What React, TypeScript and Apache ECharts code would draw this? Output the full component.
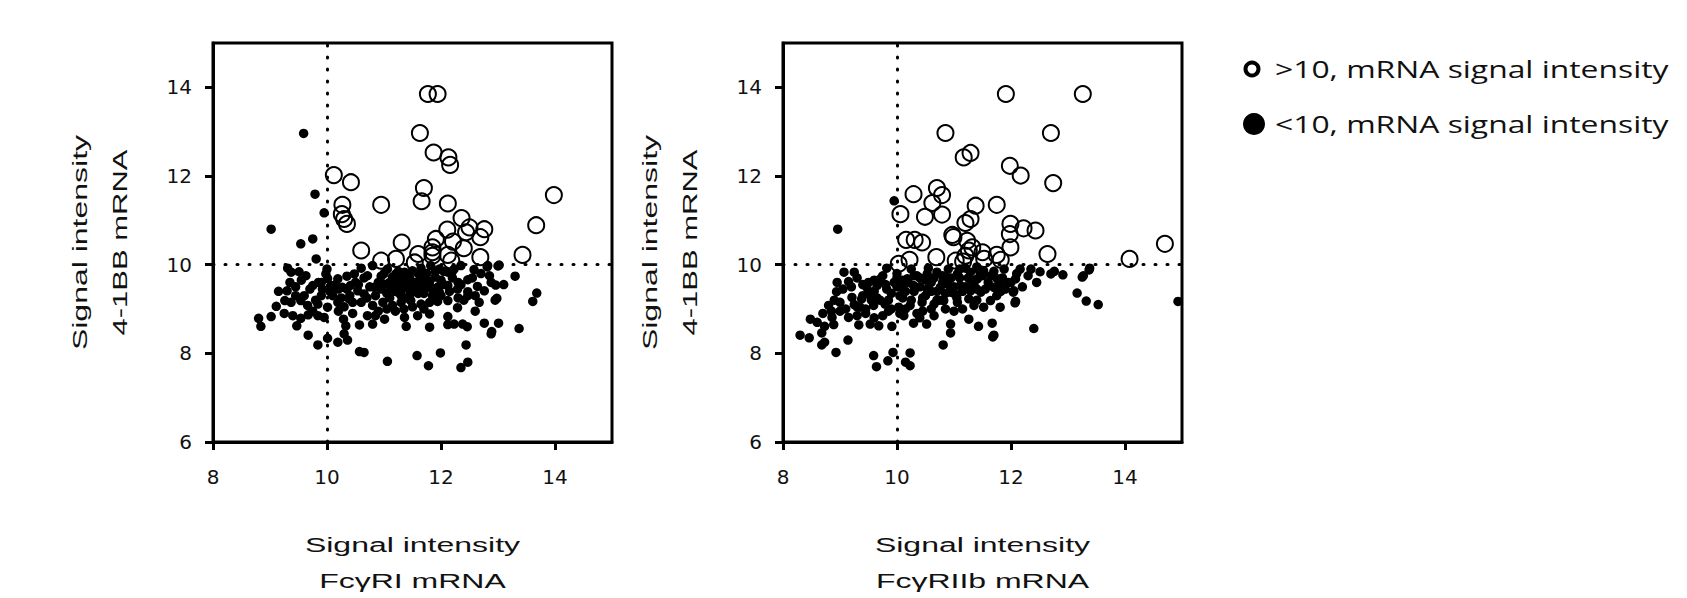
import React, { useEffect, useRef } from "react";
import * as echarts from "echarts";

// ---- Data (x = receptor mRNA signal intensity, y = 4-1BB mRNA signal intensity) ----
const xTicks = [8, 10, 12, 14];
const yTicks = [6, 8, 10, 12, 14];
const thresholdX = 10;
const thresholdY = 10;

const seriesNames = [">10, mRNA signal intensity", "<10, mRNA signal intensity"];
const xTitleTop = "Signal intensity";
const xTitles = ["FcγRI mRNA", "FcγRIIb mRNA"];
const yTitleTop = "Signal intensity";
const yTitleBottom = "4-1BB mRNA";

// Left panel: FcγRI
const fcgr1Above: number[][] = [
  [11.77, 13.85], [11.94, 13.85], [11.63, 12.97], [11.87, 12.53], [12.13, 12.42], [12.16, 12.25],
  [10.12, 12.02], [10.42, 11.86], [11.70, 11.73], [11.66, 11.43], [10.95, 11.35], [10.27, 11.35],
  [12.12, 11.38], [10.26, 11.14], [10.30, 11.03], [10.35, 10.92], [13.98, 11.57], [13.67, 10.89],
  [13.43, 10.22], [12.36, 11.05], [12.50, 10.84], [12.76, 10.80], [12.11, 10.79], [12.44, 10.73],
  [12.69, 10.62], [11.91, 10.58], [12.21, 10.52], [11.31, 10.50], [11.85, 10.39], [12.40, 10.37],
  [10.60, 10.32], [11.85, 10.28], [11.85, 10.20], [12.12, 10.22], [12.69, 10.17], [11.21, 10.13],
  [10.95, 10.09], [11.54, 10.05], [11.60, 10.24], [12.18, 10.09],
];

const fcgr1Below: number[][] = [
  [9.31, 9.92], [9.37, 9.83], [9.51, 9.84], [9.63, 9.75], [9.98, 9.79], [10.01, 9.69], [10.19, 9.68],
  [10.35, 9.74], [10.48, 9.79], [10.60, 9.92], [10.71, 9.75], [10.80, 9.98], [10.95, 9.74], [11.06, 9.90],
  [11.21, 9.79], [11.36, 9.83], [11.50, 9.86], [11.65, 9.92], [11.82, 9.98], [11.97, 9.90], [12.12, 9.83],
  [12.23, 9.90], [12.35, 9.98], [12.58, 9.89], [12.82, 9.98], [13.02, 9.99], [13.30, 9.74], [12.47, 9.66],
  [12.88, 9.60], [12.96, 9.54],
  [9.30, 9.41], [9.75, 9.53], [9.92, 9.45], [10.07, 9.53], [10.27, 9.49], [10.41, 9.53], [10.54, 9.41],
  [10.65, 9.34], [10.83, 9.49], [11.01, 9.56], [11.12, 9.47], [11.24, 9.38], [11.36, 9.47], [11.47, 9.38],
  [11.59, 9.53], [11.71, 9.45], [11.82, 9.49], [11.97, 9.38], [12.12, 9.53], [12.29, 9.45], [12.47, 9.39],
  [12.64, 9.51], [12.76, 9.41], [13.68, 9.36], [13.61, 9.17],
  [9.26, 9.19], [9.37, 9.15], [9.54, 9.19], [9.66, 9.08], [9.84, 9.11], [10.01, 9.04], [10.19, 9.15],
  [10.39, 9.23], [10.60, 9.15], [10.80, 9.08], [10.98, 9.15], [11.15, 9.08], [11.30, 9.15], [11.47, 9.19],
  [11.65, 9.11], [11.80, 9.15], [11.94, 9.17], [12.12, 9.19], [12.29, 9.03], [12.47, 9.30], [12.67, 9.15],
  [12.98, 9.24],
  [8.80, 8.79], [8.84, 8.61], [9.02, 8.83], [9.11, 9.06], [9.47, 8.62], [9.54, 8.79], [9.67, 8.87],
  [9.84, 8.85], [9.95, 8.81], [10.29, 8.77], [10.33, 8.62], [10.57, 8.64], [10.71, 8.85], [10.80, 8.66],
  [11.01, 8.77], [11.36, 8.81], [11.39, 8.61], [11.59, 8.85], [11.80, 8.89], [11.80, 8.59], [12.12, 8.83],
  [12.12, 8.65], [12.23, 8.66], [12.38, 8.66], [12.46, 8.60], [12.76, 8.68], [13.01, 8.68], [13.37, 8.56],
  [9.67, 8.41], [9.84, 8.19], [10.01, 8.34], [10.19, 8.25], [10.30, 8.44], [10.36, 8.30], [10.57, 8.04],
  [10.65, 8.02], [11.06, 7.82], [11.58, 7.95], [11.78, 7.72], [11.99, 8.01], [12.35, 7.68], [12.47, 7.80],
  [12.44, 8.19], [12.88, 8.44], [12.89, 8.49],
  [9.59, 12.96], [9.79, 11.59], [9.95, 11.17], [9.02, 10.80], [9.75, 10.58], [9.54, 10.47], [9.81, 10.13],
  [11.1, 9.6], [11.2, 9.5], [11.3, 9.65], [11.4, 9.55], [11.45, 9.7], [11.5, 9.45], [11.55, 9.6],
  [11.6, 9.35], [11.65, 9.7], [11.7, 9.55], [11.75, 9.8], [11.8, 9.62], [11.85, 9.3], [11.9, 9.72],
  [11.95, 9.5], [12.0, 9.65], [12.05, 9.85], [11.3, 9.3], [11.4, 9.25], [11.25, 9.85], [11.15, 9.72],
  [11.05, 9.35], [10.9, 9.6], [10.85, 9.3], [11.5, 9.05], [11.7, 9.0], [12.2, 9.7], [12.3, 9.6],
  [10.1, 9.3], [10.2, 9.45], [9.9, 9.3], [9.6, 9.3], [9.45, 9.5], [10.4, 9.3], [10.5, 9.6], [10.0, 9.9],
  [9.85, 9.6], [10.75, 9.5], [10.3, 9.05], [10.9, 8.95], [11.2, 8.95], [9.75, 8.95], [13.0, 9.97],
  [12.81, 9.95], [12.95, 9.2],
  [9.35, 9.6], [9.45, 9.3], [9.55, 9.65], [9.7, 9.45], [9.8, 9.2], [9.9, 9.6], [10.05, 9.4], [10.15, 9.55],
  [10.25, 9.25], [10.35, 9.45], [10.45, 9.15], [10.55, 9.55], [10.65, 9.7], [10.7, 9.25], [10.95, 9.45],
  [11.0, 9.8], [11.1, 9.25], [11.2, 9.4], [11.25, 9.6], [11.35, 9.75], [11.45, 9.3], [11.55, 9.5],
  [11.6, 9.8], [11.7, 9.35], [11.75, 9.65], [11.85, 9.45], [11.9, 9.85], [12.0, 9.3], [12.05, 9.55],
  [12.15, 9.4], [12.2, 9.85], [12.35, 9.55], [12.4, 9.2], [12.55, 9.7], [12.6, 9.3], [12.7, 9.8],
  [12.85, 9.75], [13.1, 9.55], [11.35, 9.0], [11.05, 9.0], [10.45, 8.9], [9.25, 8.9], [9.15, 9.4],
  [9.4, 8.85], [12.6, 8.95], [12.3, 9.25], [10.2, 8.95], [10.85, 8.85],
];

// Right panel: FcγRIIb
const fcgr2bAbove: number[][] = [
  [11.91, 13.85], [13.26, 13.85], [10.85, 12.97], [12.70, 12.97], [11.17, 12.42], [11.29, 12.52],
  [11.98, 12.23], [12.17, 12.01], [12.74, 11.84], [10.29, 11.59], [10.70, 11.73], [10.79, 11.57],
  [10.62, 11.39], [10.79, 11.13], [10.49, 11.08], [10.06, 11.14], [11.38, 11.33], [11.29, 11.03],
  [11.20, 10.94], [11.75, 11.35], [11.99, 10.92], [12.22, 10.82], [12.43, 10.77], [11.98, 10.69],
  [11.99, 10.39], [12.64, 10.24], [14.08, 10.13], [14.70, 10.47], [10.97, 10.67], [10.99, 10.62],
  [10.16, 10.56], [10.31, 10.56], [10.44, 10.50], [11.23, 10.54], [11.32, 10.39], [11.26, 10.32],
  [11.50, 10.28], [11.20, 10.20], [10.69, 10.17], [10.22, 10.11], [10.03, 10.02], [11.03, 10.09],
  [11.16, 10.07], [11.75, 10.22], [11.82, 10.11], [11.53, 10.13],
];

const fcgr2bBelow: number[][] = [
  [9.07, 9.83], [9.25, 9.83], [9.15, 9.62], [9.82, 9.92], [12.51, 9.84], [12.70, 9.79], [12.76, 9.85],
  [12.91, 9.77], [13.27, 9.75], [13.38, 9.92], [12.16, 9.90], [12.08, 9.68], [11.95, 9.60], [11.76, 9.68],
  [11.52, 9.86], [11.88, 9.90], [11.41, 9.68], [11.29, 9.83], [11.06, 9.79], [10.88, 9.71], [10.70, 9.83],
  [10.53, 9.79], [10.35, 9.75], [10.18, 9.68], [10.00, 9.71], [9.71, 9.68],
  [8.94, 9.39], [9.47, 9.49], [9.65, 9.53], [9.82, 9.45], [10.09, 9.49], [10.29, 9.53], [10.53, 9.45],
  [10.76, 9.49], [10.94, 9.38], [11.11, 9.53], [11.29, 9.41], [11.47, 9.38], [11.70, 9.49], [11.82, 9.40],
  [12.05, 9.41], [13.16, 9.36], [13.32, 9.18], [13.53, 9.10], [14.93, 9.17], [12.08, 9.17], [11.81, 9.04],
  [11.64, 9.19], [11.35, 9.08], [11.52, 9.04], [11.26, 9.23], [11.06, 9.15], [10.82, 9.19], [10.65, 9.11],
  [10.44, 9.15], [10.23, 9.08], [10.03, 9.04], [9.79, 9.11], [9.59, 9.08], [9.38, 9.23], [9.21, 9.26],
  [9.00, 9.15], [8.80, 9.08],
  [8.48, 8.77], [8.30, 8.41], [8.46, 8.35], [8.68, 8.46], [8.73, 8.61], [8.86, 8.81], [8.89, 8.65],
  [9.15, 8.81], [9.33, 8.64], [9.53, 8.66], [9.68, 8.62], [9.91, 8.61], [10.12, 8.85], [10.29, 8.68],
  [10.52, 8.66], [10.65, 8.85], [10.94, 8.66], [10.94, 8.46], [11.26, 8.77], [11.43, 8.61], [11.67, 8.68],
  [11.70, 8.41], [12.40, 8.56], [9.14, 8.30], [8.68, 8.19], [8.73, 8.25], [8.93, 8.02], [10.81, 8.19],
  [9.35, 9.04],
  [9.59, 7.95], [9.64, 7.70], [9.84, 7.83], [9.93, 8.02], [10.15, 7.80], [10.23, 8.01], [10.23, 7.72],
  [9.95, 11.44], [8.96, 10.80],
  [9.4, 9.3], [9.5, 9.6], [9.6, 9.4], [9.7, 9.2], [9.8, 9.55], [9.9, 9.35], [10.0, 9.5], [10.1, 9.25],
  [10.2, 9.6], [10.3, 9.4], [10.4, 9.7], [10.5, 9.3], [10.6, 9.6], [10.7, 9.4], [10.8, 9.75], [10.9, 9.55],
  [11.0, 9.35], [11.1, 9.7], [11.2, 9.5], [11.3, 9.65], [11.4, 9.45], [11.5, 9.75], [11.6, 9.6],
  [11.7, 9.85], [11.8, 9.55], [9.2, 9.5], [9.3, 9.05], [9.45, 8.9], [9.75, 8.85], [10.05, 8.9],
  [10.35, 8.9], [10.6, 9.0], [10.0, 9.8], [10.25, 9.9], [10.55, 9.92], [10.9, 9.9], [11.2, 9.92],
  [11.4, 9.95], [9.9, 9.0], [9.55, 9.2], [10.75, 9.2], [11.0, 8.95], [9.0, 8.95], [8.9, 9.2], [9.1, 9.0],
  [13.37, 9.88], [13.25, 9.72], [12.07, 9.14], [12.04, 9.38], [11.68, 8.37],
  [9.3, 9.7], [9.4, 9.55], [9.5, 9.35], [9.6, 9.65], [9.65, 9.25], [9.75, 9.75], [9.85, 9.2], [9.95, 9.6],
  [10.05, 9.3], [10.1, 9.65], [10.15, 9.4], [10.25, 9.2], [10.3, 9.75], [10.4, 9.5], [10.45, 9.25],
  [10.5, 9.65], [10.6, 9.4], [10.65, 9.7], [10.7, 9.2], [10.8, 9.6], [10.85, 9.35], [10.95, 9.7],
  [11.0, 9.5], [11.05, 9.25], [11.1, 9.9], [11.15, 9.4], [11.25, 9.7], [11.35, 9.55], [11.4, 9.2],
  [11.45, 9.85], [11.55, 9.45], [11.65, 9.75], [11.75, 9.3], [11.85, 9.7], [11.9, 9.45], [12.0, 9.6],
  [12.1, 9.8], [12.2, 9.5], [12.3, 9.75], [12.35, 9.9], [12.45, 9.6], [9.05, 9.45], [8.95, 9.6],
  [8.7, 8.9], [8.6, 8.7], [8.85, 8.95], [9.25, 9.1], [9.45, 9.0], [9.85, 8.95], [10.15, 9.0],
  [10.45, 8.95], [10.85, 9.0], [11.15, 9.0], [9.3, 8.85], [9.6, 8.8], [10.4, 8.8],
];

const FONT = "'Liberation Sans', Arial, sans-serif";
const TICK_FONT = "'DejaVu Sans', 'Liberation Sans', sans-serif";

export default function App() {
  const ref = useRef<HTMLDivElement>(null);

  useEffect(() => {
    if (!ref.current) return;
    const chart = echarts.init(ref.current, undefined, { renderer: "svg" });

    const grids = [
      { left: 213, top: 43, width: 399, height: 399 },
      { left: 783, top: 43, width: 399, height: 399 },
    ];

    const mkX = (i: number) => ({
      gridIndex: i,
      type: "value",
      min: 8,
      max: 15,
      interval: 2,
      axisLine: { show: true, onZero: false, lineStyle: { color: "#000", width: 3 } },
      axisTick: { show: true, inside: false, length: 8, customValues: xTicks, lineStyle: { color: "#000", width: 3 } },
      axisLabel: {
        customValues: xTicks,
        margin: 25,
        fontSize: 20,
        fontFamily: TICK_FONT,
        color: "#111",
        formatter: (v: number) => (v === 15 ? "" : String(v)),
      },
      splitLine: { show: false },
    });
    const mkY = (i: number) => ({
      gridIndex: i,
      type: "value",
      min: 6,
      max: 15,
      interval: 2,
      axisLine: { show: true, onZero: false, lineStyle: { color: "#000", width: 3 } },
      axisTick: { show: true, inside: false, length: 8, customValues: yTicks, lineStyle: { color: "#000", width: 3 } },
      axisLabel: {
        customValues: yTicks,
        margin: 21,
        fontSize: 20,
        fontFamily: TICK_FONT,
        color: "#111",
        formatter: (v: number) => (v === 15 ? "" : String(v)),
      },
      splitLine: { show: false },
    });

    const refLines = {
      silent: true,
      z: 1,
      symbol: ["none", "none"],
      label: { show: false },
      lineStyle: { color: "#000", width: 3, type: [1, 11], cap: "round", opacity: 1 },
      emphasis: { disabled: true },
      data: [{ xAxis: thresholdX }, { yAxis: thresholdY }],
    };

    const filled = (i: number, data: number[][]) => ({
      name: seriesNames[1],
      type: "scatter",
      xAxisIndex: i,
      yAxisIndex: i,
      symbol: "circle",
      symbolSize: 9.5,
      z: 3,
      itemStyle: { color: "#000", opacity: 1 },
      data,
      markLine: refLines,
    });
    const open = (i: number, data: number[][]) => ({
      name: seriesNames[0],
      type: "scatter",
      xAxisIndex: i,
      yAxisIndex: i,
      symbol: "circle",
      symbolSize: 16,
      z: 4,
      itemStyle: { color: "rgba(0,0,0,0)", borderColor: "#000", borderWidth: 2, opacity: 1 },
      data,
    });

    const nameText = (x: number, y: number, text: string, rot: number, sx: number) => ({
      type: "text",
      x,
      y,
      rotation: rot,
      scaleX: sx,
      style: {
        text,
        fontSize: 20,
        fontFamily: FONT,
        fill: "#111",
        align: "center",
        verticalAlign: "middle",
      },
    });

    const graphics: any[] = [];
    const yCenters = [
      { a: 80, b: 120 },
      { a: 650, b: 690 },
    ];
    grids.forEach((g, i) => {
      const cx = g.left + g.width / 2;
      graphics.push(nameText(cx, 545, xTitleTop, 0, 1.6));
      graphics.push(nameText(cx, 581, xTitles[i], 0, 1.6));
      const cy = g.top + g.height / 2;
      graphics.push(nameText(yCenters[i].a, cy, yTitleTop, Math.PI / 2, 1.6));
      graphics.push(nameText(yCenters[i].b, cy, yTitleBottom, Math.PI / 2, 1.55));
    });

    // legend
    graphics.push({
      type: "circle",
      shape: { cx: 1252, cy: 69, r: 6.5 },
      style: { fill: "none", stroke: "#000", lineWidth: 4 },
    });
    graphics.push({
      type: "circle",
      shape: { cx: 1254, cy: 124, r: 11 },
      style: { fill: "#000" },
    });
    [69, 124].forEach((y, k) => {
      graphics.push({
        type: "text",
        x: 1275,
        y,
        scaleX: 1.3,
        style: {
          text: seriesNames[k],
          fontSize: 24.5,
          fontFamily: "'Open Sans', 'Noto Sans', sans-serif",
          fill: "#111",
          align: "left",
          verticalAlign: "middle",
        },
      });
    });

    chart.setOption({
      animation: false,
      backgroundColor: "#fff",
      grid: grids.map((g) => ({ ...g, show: true, borderColor: "#000", borderWidth: 3, backgroundColor: "transparent", containLabel: false })),
      xAxis: [mkX(0), mkX(1)],
      yAxis: [mkY(0), mkY(1)],
      series: [
        filled(0, fcgr1Below),
        open(0, fcgr1Above),
        filled(1, fcgr2bBelow),
        open(1, fcgr2bAbove),
      ],
      graphic: graphics,
    });

    return () => chart.dispose();
  }, []);

  return (
    <div
      ref={ref}
      style={{ position: "fixed", left: 0, top: 0, width: 1687, height: 598, background: "#fff" }}
    />
  );
}
